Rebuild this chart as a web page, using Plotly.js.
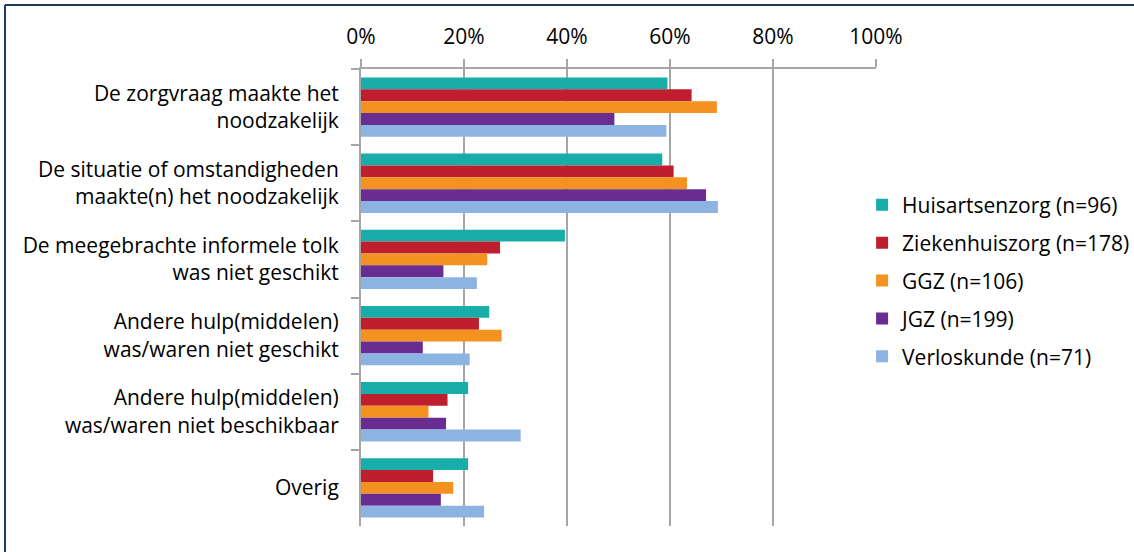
<!DOCTYPE html>
<html>
<head>
<meta charset="utf-8">
<script src="https://cdn.plot.ly/plotly-3.0.1.min.js"></script>
<style>
  html, body { margin: 0; padding: 0; background: #ffffff; }
  #chart { width: 1134px; height: 552px; }
</style>
</head>
<body>
<div id="chart"></div>
<script>
const categories = [
  "De zorgvraag maakte het<br>noodzakelijk",
  "De situatie of omstandigheden<br>maakte(n) het noodzakelijk",
  "De meegebrachte informele tolk<br>was niet geschikt",
  "Andere hulp(middelen)<br>was/waren niet geschikt",
  "Andere hulp(middelen)<br>was/waren niet beschikbaar",
  "Overig"
];
const seriesNames = [
  "Huisartsenzorg (n=96)",
  "Ziekenhuiszorg (n=178)",
  "GGZ (n=106)",
  "JGZ (n=199)",
  "Verloskunde (n=71)"
];
const huisartsenzorg = [59.5, 58.5, 39.6, 24.9, 20.8, 20.8];
const ziekenhuiszorg = [64.2, 60.7, 27.0, 22.9, 16.8, 14.0];
const ggz            = [69.1, 63.3, 24.5, 27.3, 13.1, 17.9];
const jgz            = [49.2, 67.0, 16.0, 12.0, 16.5, 15.5];
const verloskunde    = [59.3, 69.3, 22.5, 21.1, 31.0, 23.9];
const xTickValues = [0, 20, 40, 60, 80, 100];
const xTickLabels = ["0%", "20%", "40%", "60%", "80%", "100%"];

const seriesValues = [huisartsenzorg, ziekenhuiszorg, ggz, jgz, verloskunde];
const colors = ["#18ADA8", "#BE1E2D", "#F4921F", "#692C91", "#8DB3E2"];

const traces = seriesValues.map((vals, i) => ({
  type: "bar",
  orientation: "h",
  name: seriesNames[i],
  x: vals,
  y: categories,
  legendgroup: "g" + i,
  marker: { color: colors[i], line: { width: 0 } },
  hoverinfo: "x+name"
}));

const FONT = "'Open Sans', 'Liberation Sans', sans-serif";
const gridColor = "#A6A6A6";

const layout = {
  width: 1134,
  height: 552,
  margin: { l: 361, r: 258, t: 69, b: 26, pad: 0, autoexpand: false },
  paper_bgcolor: "#ffffff",
  plot_bgcolor: "#ffffff",
  font: { family: FONT, size: 21, color: "#000000" },
  barmode: "group",
  bargap: 0.22,
  bargroupgap: 0,
  showlegend: true,
  legend: {
    x: 0.973, xanchor: "left",
    y: 0.537, yanchor: "middle",
    traceorder: "grouped",
    tracegroupgap: 7.6,
    font: { family: FONT, size: 21, color: "#000000" },
    itemwidth: 30,
    bgcolor: "rgba(0,0,0,0)"
  },
  xaxis: {
    side: "top",
    range: [0, 100],
    tickvals: xTickValues,
    ticktext: xTickLabels,
    showgrid: true,
    gridcolor: gridColor,
    gridwidth: 2,
    zeroline: false,
    showline: true,
    linecolor: gridColor,
    linewidth: 2,
    ticks: "outside",
    ticklen: 8,
    tickwidth: 2,
    tickcolor: gridColor,
    ticklabelstandoff: 7,
    tickfont: { family: FONT, size: 21, color: "#000000" },
    automargin: false,
    fixedrange: true
  },
  yaxis: {
    type: "category",
    autorange: "reversed",
    showgrid: false,
    zeroline: false,
    showline: true,
    linecolor: gridColor,
    linewidth: 2,
    ticks: "outside",
    tickson: "boundaries",
    ticklen: 8,
    tickwidth: 2,
    tickcolor: gridColor,
    ticklabelstandoff: 16,
    tickfont: { family: FONT, size: 21, color: "#000000" },
    automargin: false,
    fixedrange: true
  },
  shapes: [
    { type: "line", xref: "paper", yref: "paper", x0: -0.6913, x1: -0.6913, y0: 1.140, y1: -0.2,
      line: { color: "#1F3864", width: 2 } },
    { type: "line", xref: "paper", yref: "paper", x0: -0.6913, x1: 1.6, y0: 1.140, y1: 1.140,
      line: { color: "#1F3864", width: 2 } }
  ]
};

Plotly.newPlot("chart", traces, layout, { displayModeBar: false, staticPlot: false });
</script>
</body>
</html>
